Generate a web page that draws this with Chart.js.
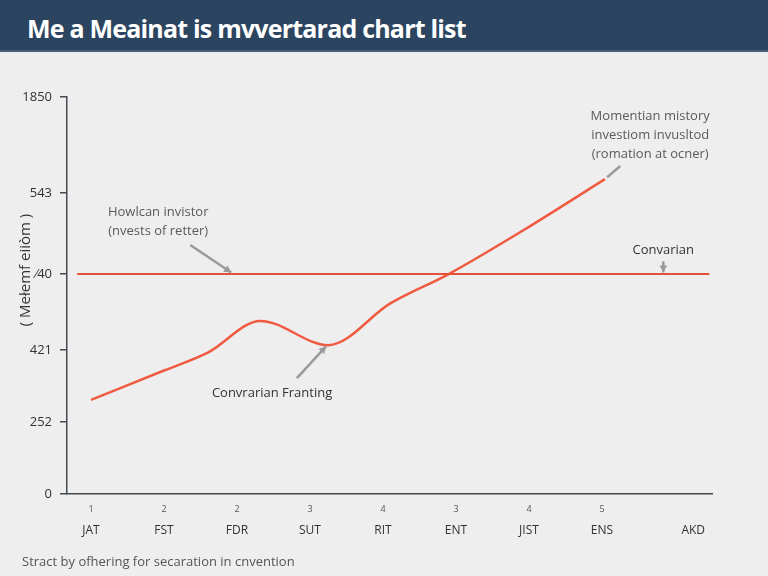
<!DOCTYPE html>
<html lang="en">
<head>
    <meta charset="UTF-8">
    <title>Momentum vs contrarian chart</title>
    <script src="https://cdn.jsdelivr.net/npm/chart.js"></script>
    <style>
        html, body { margin: 0; padding: 0; background: #eeeeee; }
        body { width: 768px; height: 576px; position: relative; overflow: hidden; font-family: "Open Sans", sans-serif; }
        header {
            position: absolute; left: 0; top: 0; width: 768px; height: 52px;
            background: #2b4561; border-bottom: 2px solid #4a6079; box-sizing: border-box;
        }
        header h1 {
            margin: 0; position: absolute; left: 27px; top: 11px;
            color: #ffffff; font: bold 25px "Open Sans", sans-serif; letter-spacing: -0.8px;
        }
        #chartBox { position: absolute; left: 0; top: 52px; width: 768px; height: 524px; }
        #footer {
            position: absolute; left: 22px; top: 552px;
            color: #555555; font: 13px "Open Sans", sans-serif;
        }
    </style>
</head>
<body>
    <header><h1>Me a Meainat is mvvertarad chart  list</h1></header>
    <div id="chartBox"><canvas id="chart"></canvas></div>
    <div id="footer">Stract by ofhering for secaration in cnvention</div>

    <script>
        // x categories (position on the index scale) and their labels
        const xTickPos = [0, 1, 2, 3, 4, 5, 6, 7, 8.25];
        const xNames = ['JAT', 'FST', 'FDR', 'SUT', 'RIT', 'ENT', 'JIST', 'ENS', 'AKD'];
        const xNumbers = ['1', '2', '2', '3', '4', '3', '4', '5', ''];

        // y ticks (position on the scale) and the odd labels shown there
        const yTickPos = [0, 18.1, 36.3, 55.4, 75.8, 100];
        const yTickLabels = ['0', '252', '421', '\u204440', '543', '1850'];

        // momentum curve
        const curveX = [0, 1, 1.6, 2.32, 3.25, 4.1, 4.9, 6, 7.04];
        const curveY = [23.7, 31.1, 35.6, 43.6, 37.5, 48.0, 55.4, 67.3, 79.3];

        // flat contrarian level
        const levelX = [-0.19, 8.47];
        const levelY = [55.4, 55.4];

        const notes = [
            { lines: ['Momentian mistory', 'investiom invusltod', '(romation at ocner)'], x: 7.66, y: 95.2,
              from: [7.25, 82.6], to: [7.07, 79.8], head: false, color: '#5a5a5a' },
            { lines: ['Convarian'], x: 7.84, y: 61.5, from: [7.84, 58.6], to: [7.84, 55.8], head: true, color: '#333333' },
            { lines: ['Howlcan invistor', '(nvests of retter)'], x: 0.92, y: 71.0,
              from: [1.36, 62.7], to: [1.92, 55.8], head: true, color: '#5a5a5a' },
            { lines: ['Convrarian Franting'], x: 2.48, y: 25.4, from: [2.82, 29.2], to: [3.22, 37.2], head: true, color: '#333333' }
        ];

        const toPoints = (xs, ys) => xs.map((x, i) => ({ x: x, y: ys[i] }));

        const extras = {
            id: 'extras',
            afterDraw(chart) {
                const ctx = chart.ctx;
                const xs = chart.scales.x, ys = chart.scales.y;
                ctx.save();

                // small numbers above the month names
                ctx.font = '9px "Open Sans", sans-serif';
                ctx.fillStyle = '#555555';
                ctx.textAlign = 'center';
                ctx.textBaseline = 'middle';
                xTickPos.forEach((v, i) => ctx.fillText(xNumbers[i], xs.getPixelForValue(v), ys.bottom + 15));

                // y axis title
                ctx.save();
                ctx.translate(26, 218);
                ctx.rotate(-Math.PI / 2);
                ctx.font = '15px "Open Sans", sans-serif';
                ctx.fillStyle = '#333333';
                ctx.fillText('( Mełemf eiiòm )', 0, 0);
                ctx.restore();

                // annotations
                notes.forEach(n => {
                    ctx.font = '13px "Open Sans", sans-serif';
                    ctx.fillStyle = n.color;
                    const cx = xs.getPixelForValue(n.x);
                    const cy = ys.getPixelForValue(n.y);
                    n.lines.forEach((t, i) => ctx.fillText(t, cx, cy + i * 19));

                    const x1 = xs.getPixelForValue(n.from[0]), y1 = ys.getPixelForValue(n.from[1]);
                    const x2 = xs.getPixelForValue(n.to[0]), y2 = ys.getPixelForValue(n.to[1]);
                    ctx.strokeStyle = '#9a9a9a';
                    ctx.fillStyle = '#9a9a9a';
                    ctx.lineWidth = 2.5;
                    ctx.beginPath();
                    ctx.moveTo(x1, y1);
                    ctx.lineTo(x2, y2);
                    ctx.stroke();
                    if (n.head) {
                        const a = Math.atan2(y2 - y1, x2 - x1);
                        ctx.beginPath();
                        ctx.moveTo(x2, y2);
                        ctx.lineTo(x2 - 8 * Math.cos(a - 0.5), y2 - 8 * Math.sin(a - 0.5));
                        ctx.lineTo(x2 - 8 * Math.cos(a + 0.5), y2 - 8 * Math.sin(a + 0.5));
                        ctx.closePath();
                        ctx.fill();
                    }
                });
                ctx.restore();
            }
        };

        new Chart(document.getElementById('chart'), {
            type: 'line',
            data: {
                datasets: [
                    {
                        data: toPoints(levelX, levelY),
                        borderColor: '#e5503b',
                        borderWidth: 2,
                        pointRadius: 0,
                        tension: 0
                    },
                    {
                        data: toPoints(curveX, curveY),
                        borderColor: '#ef5a40',
                        borderWidth: 2.5,
                        pointRadius: 0,
                        cubicInterpolationMode: 'monotone'
                    }
                ]
            },
            options: {
                responsive: true,
                maintainAspectRatio: false,
                animation: false,
                layout: { padding: { left: 0, right: 56, top: 45, bottom: 0 } },
                plugins: { legend: { display: false }, tooltip: { enabled: false } },
                scales: {
                    x: {
                        type: 'linear',
                        min: -0.329,
                        max: 8.507,
                        afterBuildTicks: s => { s.ticks = xTickPos.map(v => ({ value: v })); },
                        afterFit: s => { s.height = 82; },
                        grid: { display: false },
                        border: { color: '#444a50', width: 1.5 },
                        ticks: {
                            autoSkip: false,
                            maxRotation: 0,
                            padding: 21,
                            color: '#333333',
                            font: { family: '"Open Sans", sans-serif', size: 12 },
                            callback: (v, i) => xNames[i]
                        }
                    },
                    y: {
                        min: 0,
                        max: 100,
                        afterBuildTicks: s => { s.ticks = yTickPos.map(v => ({ value: v })); },
                        afterFit: s => { s.width = 67; },
                        grid: { drawOnChartArea: false, tickLength: 7, tickColor: '#444a50', lineWidth: 1.5 },
                        border: { color: '#444a50', width: 1.5 },
                        ticks: {
                            padding: 8,
                            color: '#333333',
                            font: { family: '"Open Sans", sans-serif', size: 13 },
                            callback: (v, i) => yTickLabels[i]
                        }
                    }
                }
            },
            plugins: [extras]
        });
    </script>
</body>
</html>
